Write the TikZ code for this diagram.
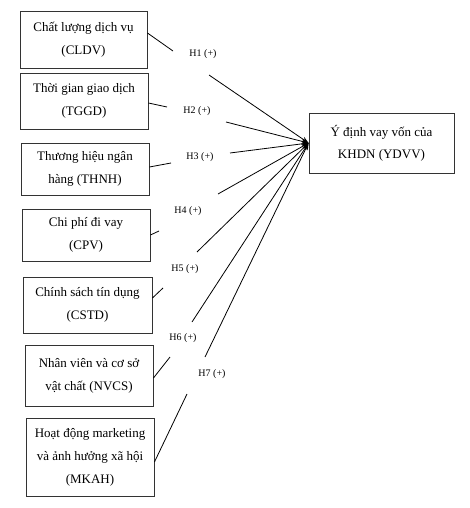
\documentclass[tikz,border=0pt]{standalone}
\usepackage{fontspec}
\setmainfont{Liberation Serif}
\usetikzlibrary{arrows.meta}
\begin{document}
\begin{tikzpicture}[x=1pt,y=-1pt,
  box/.style={draw=black!80,line width=0.9pt,align=center,inner sep=0pt,
    font=\fontsize{13}{23}\selectfont},
  hlabel/.style={font=\fontsize{10}{11}\selectfont,inner sep=0pt},
  link/.style={line width=0.8pt,black},
  arr/.style={link,-{Stealth[length=7pt,width=5pt]}}]
\useasboundingbox (0,0) rectangle (469,508);
% factor boxes
\node[box,minimum width=127pt,minimum height=57pt] (cldv) at (83.5,39.5) {Chất lượng dịch vụ\\(CLDV)};
\node[box,minimum width=128pt,minimum height=56pt] (tggd) at (84,101) {Thời gian giao dịch\\(TGGD)};
\node[box,minimum width=128pt,minimum height=52pt] (thnh) at (85,169) {Thương hiệu ngân\\hàng (THNH)};
\node[box,minimum width=128pt,minimum height=52pt] (cpv) at (86,235) {Chi phí đi vay\\(CPV)};
\node[box,minimum width=129pt,minimum height=56pt] (cstd) at (87.5,305) {Chính sách tín dụng\\(CSTD)};
\node[box,minimum width=128pt,minimum height=61pt] (nvcs) at (89,375.5) {Nhân viên và cơ sở\\vật chất (NVCS)};
\node[box,minimum width=128pt,minimum height=78pt] (mkah) at (90,457) {Hoạt động marketing\\và ảnh hưởng xã hội\\(MKAH)};
% target box
\node[box,minimum width=145pt,minimum height=60pt,font=\fontsize{13}{22}\selectfont] (ydvv) at (381.5,143) {Ý định vay vốn của\\KHDN (YDVV)};
% labels
\node[hlabel] (h1) at (203,54) {H1 (+)};
\node[hlabel] (h2) at (197,111) {H2 (+)};
\node[hlabel] (h3) at (200,157) {H3 (+)};
\node[hlabel] (h4) at (188,211) {H4 (+)};
\node[hlabel] (h5) at (185,269) {H5 (+)};
\node[hlabel] (h6) at (183,338) {H6 (+)};
\node[hlabel] (h7) at (212,374) {H7 (+)};
% segment end points around the labels
\coordinate (a1) at (173,51);  \coordinate (b1) at (209,75);
\coordinate (a2) at (167,107); \coordinate (b2) at (226,122);
\coordinate (a3) at (171,163); \coordinate (b3) at (230,153);
\coordinate (a4) at (159,231); \coordinate (b4) at (218,194);
\coordinate (a5) at (163,288); \coordinate (b5) at (197,252);
\coordinate (a6) at (170,357); \coordinate (b6) at (192,322);
\coordinate (a7) at (187,394); \coordinate (b7) at (205,357);
% connectors
\draw[link] ([yshift=6.5pt]cldv.east) -- (a1);
\draw[arr] (b1) -- (ydvv.west);
\draw[link] ([yshift=-2pt]tggd.east) -- (a2);
\draw[arr] (b2) -- (ydvv.west);
\draw[link] ([yshift=2pt]thnh.east) -- (a3);
\draw[arr] (b3) -- (ydvv.west);
\draw[link] (cpv.east) -- (a4);
\draw[arr] (b4) -- (ydvv.west);
\draw[link] ([yshift=7pt]cstd.east) -- (a5);
\draw[arr] (b5) -- (ydvv.west);
\draw[link] ([yshift=-2.5pt]nvcs.east) -- (a6);
\draw[arr] (b6) -- (ydvv.west);
\draw[link] ([yshift=-5pt]mkah.east) -- (a7);
\draw[arr] (b7) -- (ydvv.west);
\end{tikzpicture}
\end{document}
